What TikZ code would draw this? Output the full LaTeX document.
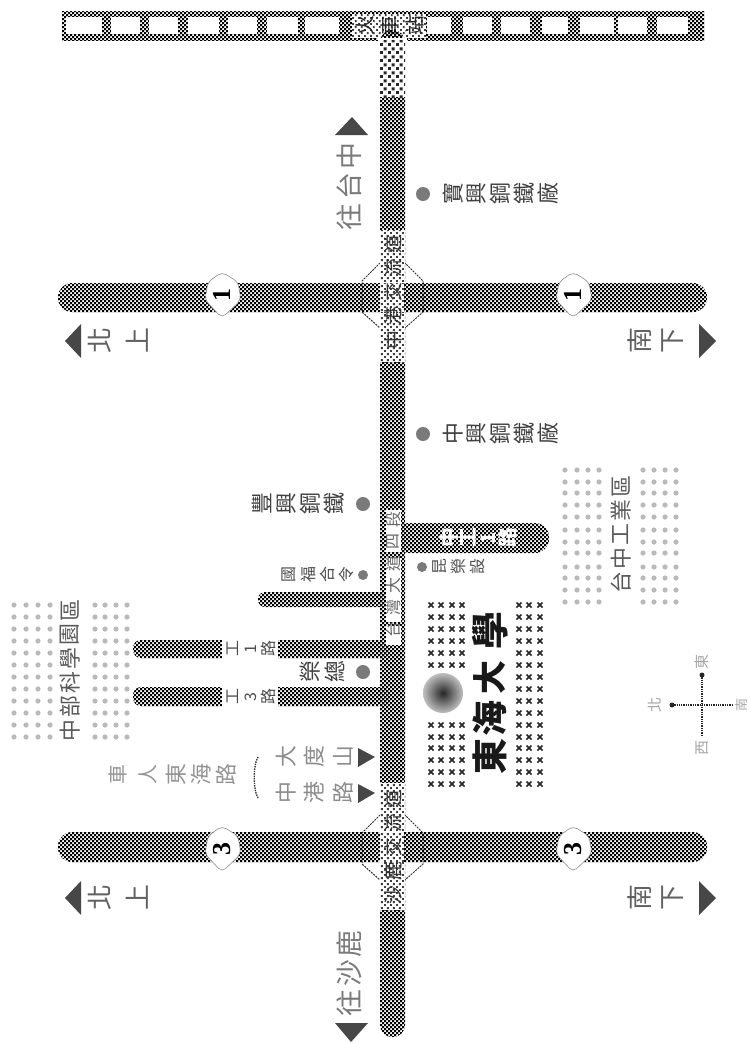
\documentclass[tikz,border=0pt]{standalone}
\usepackage{fontspec}
\newfontfamily\cjk{Noto Sans CJK TC}
\newfontfamily\numf{Liberation Serif}
\usetikzlibrary{patterns}
\pgfdeclarepatternformonly{lit}{\pgfqpoint{0bp}{0bp}}{\pgfqpoint{6.3bp}{6.3bp}}{\pgfqpoint{6.3bp}{6.3bp}}{%
  \pgfpathrectangle{\pgfqpoint{0bp}{0bp}}{\pgfqpoint{2.1bp}{2.1bp}}%
  \pgfpathrectangle{\pgfqpoint{3.15bp}{3.15bp}}{\pgfqpoint{2.1bp}{2.1bp}}%
  \pgfusepath{fill}}
\pgfdeclarepatternformonly{blob}{\pgfqpoint{0bp}{0bp}}{\pgfqpoint{7.6bp}{7.6bp}}{\pgfqpoint{7.6bp}{7.6bp}}{%
  \pgfpathrectangle{\pgfqpoint{0bp}{0bp}}{\pgfqpoint{3bp}{3bp}}%
  \pgfpathrectangle{\pgfqpoint{3.8bp}{3.8bp}}{\pgfqpoint{3bp}{3bp}}%
  \pgfusepath{fill}}
\newcount\lblno
\newcount\ci \newcount\cj \newcount\xa \newcount\xb \newcount\yb
\def\chkrow{\ifnum\ci<\xb\relax
    \ifodd\numexpr\ci+\cj\relax\else
      \pgfpathrectangle{\pgfqpoint{\dimexpr\ci bp*2\relax}{\dimexpr-\cj bp*2-2.2bp\relax}}{\pgfqpoint{2.2bp}{2.2bp}}%
    \fi
    \advance\ci by 1
    \expandafter\chkrow
  \fi}
\def\chkcols{\ifnum\cj<\yb\relax
    \ci=\xa \chkrow
    \advance\cj by 1
    \expandafter\chkcols
  \fi}
% corner radius, x1, y1, x2, y2: a rectangular road filled with a 2-pixel checker
\newcommand\checkroad[5]{%
  \begin{scope}
    \clip[rounded corners=#1bp] (#2,#3) rectangle (#4,#5);
    \pgfsetfillcolor{black}%
    \xa=\numexpr#2/2-1\relax \xb=\numexpr#4/2+1\relax
    \cj=\numexpr#3/2-1\relax \yb=\numexpr#5/2+1\relax
    \chkcols
    \pgfusepath{fill}%
  \end{scope}}
\tikzset{
  litroad/.style={pattern=lit,pattern color=black!75},
  blobroad/.style={pattern=blob,pattern color=black!85},
  glyph/.style={inner sep=0pt,outer sep=0pt,rotate=90},
  tri/.style={fill=black!72},
  parkdot/.style={fill=black!27},
  spot/.style={fill=black!52},
  octa/.style={draw=black!80,line width=1pt,fill=white,dash pattern=on 2pt off 1pt},
  shield/.style={fill=white,draw=black!45,line width=0.6pt,rounded corners=5pt},
}
% x of first, y of first, dx, dy, size, colour, list
\newcommand\charrow[7]{%
  \foreach \ch [count=\k from 0] in {#7}{%
    \global\advance\lblno by 1
    \node[glyph,font=\cjk\fontsize{#5}{#5}\selectfont,text=#6] (c\the\lblno) at ({#1+\k*(#3)},{#2+\k*(#4)}) {\ch};
  }}
\begin{document}
\begin{tikzpicture}[x=1bp,y=-1bp]
\path[use as bounding box,fill=white] (0,0) rectangle (750,1044);

% railway
\checkroad{0}{62}{11}{704}{40}
\foreach \a/\b in {66/102,111/140,149/178,188/219,228/257,267/298,305/339,427/451,463/492,501/530,542/568,580/614,618/647,657/688}
  \fill[white] (\a,17) rectangle (\b,34);
\fill[white] (352,14) rectangle (426,38);
\path[litroad] (352,14) rectangle (426,38);
\charrow{365}{26}{25}{0}{20}{black!85}{火,車,站}

% parks
\foreach \x in {14,26,38,50,95,105,116,127}
  \foreach \y in {605,617,629,641,653,665,677,689,701,713,725,737}
    \fill[parkdot] (\x,\y) circle (2.6);
\foreach \x in {565,577,588,599,643,654,665,676}
  \foreach \y in {470,482,493,505,517,530,542,553,567,578,590,602}
    \fill[parkdot] (\x,\y) circle (2.6);
\charrow{70}{731}{0}{-24}{22}{black!65}{中,部,科,學,園,區}
\charrow{621}{583}{0}{-24}{22}{black!65}{台,中,工,業,區}

% interchange octagons
\path[octa] (380,263) -- (405,263) -- (423,281) -- (423,312) -- (405,328) -- (380,328) -- (362,312) -- (362,281) -- cycle;
\path[octa] (380,815) -- (405,815) -- (423,833) -- (423,864) -- (405,880) -- (380,880) -- (362,864) -- (362,833) -- cycle;

% highways
\checkroad{14}{58}{283}{707}{312}
\checkroad{14}{58}{832}{707}{862}

% main road and branches
\checkroad{12}{380}{30}{405}{1037}
\checkroad{14}{395}{523}{549}{553}
\checkroad{7}{258}{592}{390}{607}
\checkroad{8}{133}{640}{390}{658}
\checkroad{8}{133}{687}{390}{706}
\fill[white] (222,639) rectangle (278,659);
\fill[white] (222,686) rectangle (278,707);

% lighter stretches of the main road
\fill[white] (378,38) rectangle (407,97);
\path[blobroad] (380,40) rectangle (405,97);
\foreach \a/\b in {230/283,312/362,783/832,862/910}{
  \fill[white] (380,\a) rectangle (405,\b);
  \path[litroad] (380,\a) rectangle (405,\b);
}
\fill[white] (380,283) rectangle (404,312);
\path[litroad] (380,283) rectangle (404,312);
\fill[white] (380,832) rectangle (404,862);
\path[litroad] (380,832) rectangle (404,862);
\foreach \a/\b in {510/552,558/622,626/645}
  \fill[white] (386,\a) rectangle (401,\b);

% road texts
\charrow{393}{340}{0}{-24}{19}{black!80}{中,港,交,流,道}
\charrow{393}{895}{0}{-24}{19}{black!80}{沙,鹿,交,流,道}
\charrow{393}{630}{0}{-22}{16}{black!60}{台,灣,大,道,四,段}
\charrow{449}{538}{19.5}{0}{20}{white}{\bfseries 中,\bfseries 工,\bfseries 1,\bfseries 路}
\charrow{233}{649}{17.5}{0}{16}{black!70}{工,1,路}
\charrow{233}{697}{17.5}{0}{16}{black!70}{工,3,路}

% shields
\foreach \cx/\cy/\nm/\id in {222/295/1/a,573/295/1/b,222/849/3/c,573/849/3/d}{
  \path[shield] (\cx,\cy-23) -- (\cx+16,\cy-13) -- (\cx+19,\cy+5) -- (\cx,\cy+23) -- (\cx-17,\cy+5) -- (\cx-14,\cy-13) -- cycle;
  \node[glyph,font=\numf\bfseries\fontsize{26}{26}\selectfont] (sh\id) at (\cx,\cy) {\nm};
}

% direction arrows and texts
\foreach \cy in {341,898}{
  \fill[tri] (65,\cy) -- (81,\cy-17) -- (81,\cy+17) -- cycle;
  \fill[tri] (716,\cy) -- (699,\cy-17) -- (699,\cy+17) -- cycle;
}
\charrow{100}{341}{37}{0}{26}{black!62}{北,上}
\charrow{640}{341}{33}{0}{26}{black!62}{南,下}
\charrow{100}{898}{37}{0}{26}{black!62}{北,上}
\charrow{640}{898}{33}{0}{26}{black!62}{南,下}
\fill[tri] (352,117) -- (335,135) -- (368,135) -- cycle;
\fill[tri] (351,1042) -- (335,1023) -- (368,1023) -- cycle;
\charrow{349}{217}{0}{-30.5}{27}{black!52}{往,台,中}
\charrow{349}{1003}{0}{-29.5}{27}{black!52}{往,沙,鹿}

% place labels
\fill[spot] (423,194) circle (7);
\charrow{453}{194}{23.7}{0}{22}{black!75}{寶,興,鋼,鐵,廠}
\fill[spot] (423,434) circle (7);
\charrow{453}{434}{23.7}{0}{22}{black!75}{中,興,鋼,鐵,廠}
\fill[spot] (363,504) circle (7);
\charrow{262}{504}{24}{0}{22}{black!75}{豐,興,鋼,鐵}
\fill[spot] (363,575) circle (5);
\charrow{289}{575}{19}{0}{16}{black!70}{國,福,合,令}
\fill[spot] (422,567) circle (5);
\charrow{440}{567}{18.5}{0}{16}{black!70}{昆,榮,設}
\fill[spot] (363,672) circle (7);
\charrow{310}{672}{25}{0}{22}{black!75}{榮,總}

% approach labels
\fill[tri] (375,757) -- (358,748) -- (358,767) -- cycle;
\fill[tri] (375,793) -- (358,784) -- (358,803) -- cycle;
\charrow{286}{757}{28.5}{0}{22}{black!45}{大,度,山}
\charrow{286}{793}{28.5}{0}{22}{black!45}{中,港,路}
\draw[black!80,line width=1.4pt,densely dotted] (258,757) .. controls (253,765) and (253,790) .. (258,798);
\charrow{118}{775}{0}{0}{20}{black!42}{車}
\charrow{148}{775}{0}{0}{20}{black!42}{人}
\charrow{176}{775}{25}{0}{22}{black!42}{東,海,路}

% campus
\foreach \x in {431,441,452,462}
  \foreach \y in {605,617,629,641,653,665,725,737,748,760,772,784}{
    \draw[black!85,line width=1.7pt] (\x-2.5,\y-2.5) -- (\x+2.5,\y+2.5);
    \draw[black!85,line width=1.7pt] (\x-2.5,\y+2.5) -- (\x+2.5,\y-2.5);
  }
\foreach \x in {519,529,540}
  \foreach \y in {605,617,629,641,653,665,677,689,701,713,725,737,748,760,772,784}{
    \draw[black!85,line width=1.7pt] (\x-2.5,\y-2.5) -- (\x+2.5,\y+2.5);
    \draw[black!85,line width=1.7pt] (\x-2.5,\y+2.5) -- (\x+2.5,\y-2.5);
  }
\shade[inner color=black!85,outer color=black!25] (443,693) circle (20);
\charrow{490}{757}{0}{0}{36}{black!90}{\bfseries 東}
\charrow{490}{719}{0}{0}{36}{black!90}{\bfseries 海}
\charrow{490}{678}{0}{0}{34}{black!90}{\bfseries 大}
\charrow{490}{631}{0}{0}{38}{black!90}{\bfseries 學}

% compass
\coordinate (cl) at (672,705);
\coordinate (cr) at (733,705);
\coordinate (ct) at (702,675);
\coordinate (cb) at (702,735);
\draw[black!85,line width=1.3pt,densely dotted] (cl) -- (cr);
\draw[black!85,line width=1.3pt,densely dotted] (ct) -- (cb);
\fill[black!85] (672,705) circle (2.5);
\fill[black!85] (702,675) circle (2.5);
\charrow{702}{662}{0}{0}{15}{black!35}{東}
\charrow{702}{748}{0}{0}{15}{black!35}{西}
\charrow{655}{705}{0}{0}{15}{black!35}{北}
\charrow{742}{705}{0}{0}{13}{black!35}{南}
\end{tikzpicture}
\end{document}
